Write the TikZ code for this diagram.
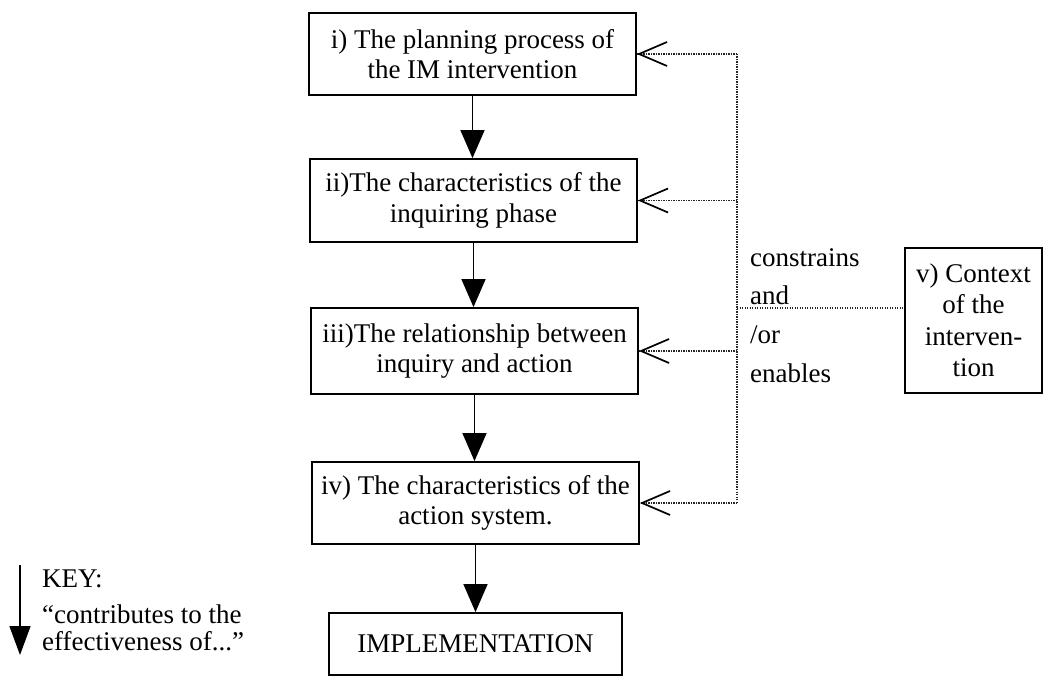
\documentclass[tikz,border=0pt]{standalone}
\usepackage{fontspec}
\setmainfont{Liberation Serif}
\usetikzlibrary{arrows.meta}
\begin{document}
\begin{tikzpicture}[x=1pt,y=-1pt,
  txt/.style={font=\fontsize{27}{30.6}\selectfont},
  box/.style={draw, line width=1.8pt, txt, align=center, inner sep=0pt},
  flow/.style={line width=1.5pt, -{Triangle[width=24pt,length=28pt]}},
  dotline/.style={line width=1.3pt, dash pattern=on 1.2pt off 1.3pt, black!85},
  barb/.style={-{Straight Barb[length=28pt,width=24pt,line width=1.7pt]}}
]
\useasboundingbox (0,0) rectangle (1044,676);

% process chain
\node[box, minimum width=327pt, minimum height=82pt] (b1) at (472.5,54)
  {i) The planning process of\\the IM intervention};
\node[box, minimum width=327pt, minimum height=83pt] (b2) at (473.5,200.5)
  {ii)The characteristics of the\\inquiring phase};
\node[box, minimum width=327pt, minimum height=86pt] (b3) at (474.5,351)
  {iii)The relationship between\\inquiry and action};
\node[box, minimum width=327pt, minimum height=82pt] (b4) at (475.5,503)
  {iv) The characteristics of the\\action system.};
\node[box, minimum width=293pt, minimum height=62pt] (b5) at (475.5,644)
  {IMPLEMENTATION};

% context box
\node[box, minimum width=137pt, minimum height=145pt, font=\fontsize{27}{31.5}\selectfont] (v) at (973.5,320.5)
  {v) Context\\of the\\interven-\\tion};

\draw[flow] (b1.south) -- (b1.south |- b2.north);
\draw[flow] (b2.south) -- (b2.south |- b3.north);
\draw[flow] (b3.south) -- (b3.south |- b4.north);
\draw[flow] (b4.south) -- (b4.south |- b5.north);

% dotted influence lines from the context
\coordinate (spine) at (737,308);
\draw[dotline] (spine) -- (spine -| v.west);
\draw[dotline] (spine |- b1.east) -- (spine |- b4.east);
\foreach \b in {b1,b2,b3,b4}{
  \draw[dotline] (spine |- \b.east) -- (\b.east);
  \draw[barb] ([xshift=2pt]\b.east) -- (\b.east);
}

% labels on the spine
\node[txt, anchor=base west, inner sep=0pt] (l1) at (750,267) {constrains};
\node[txt, anchor=base west, inner sep=0pt] (l2) at (750,305) {and};
\node[txt, anchor=base west, inner sep=0pt] (l3) at (750,343) {/or};
\node[txt, anchor=base west, inner sep=0pt] (l4) at (750,382) {enables};

% key
\coordinate (k1) at (20,565);
\coordinate (k2) at (20,655);
\draw[line width=1.5pt, -{Triangle[width=21pt,length=29pt]}] (k1) -- (k2);
\node[txt, anchor=base west, inner sep=0pt] (key) at (42,587) {KEY:};
\node[txt, anchor=base west, inner sep=0pt] (key1) at (42,623) {“contributes to the};
\node[txt, anchor=base west, inner sep=0pt] (key2) at (42,650) {effectiveness of...”};
\end{tikzpicture}
\end{document}
